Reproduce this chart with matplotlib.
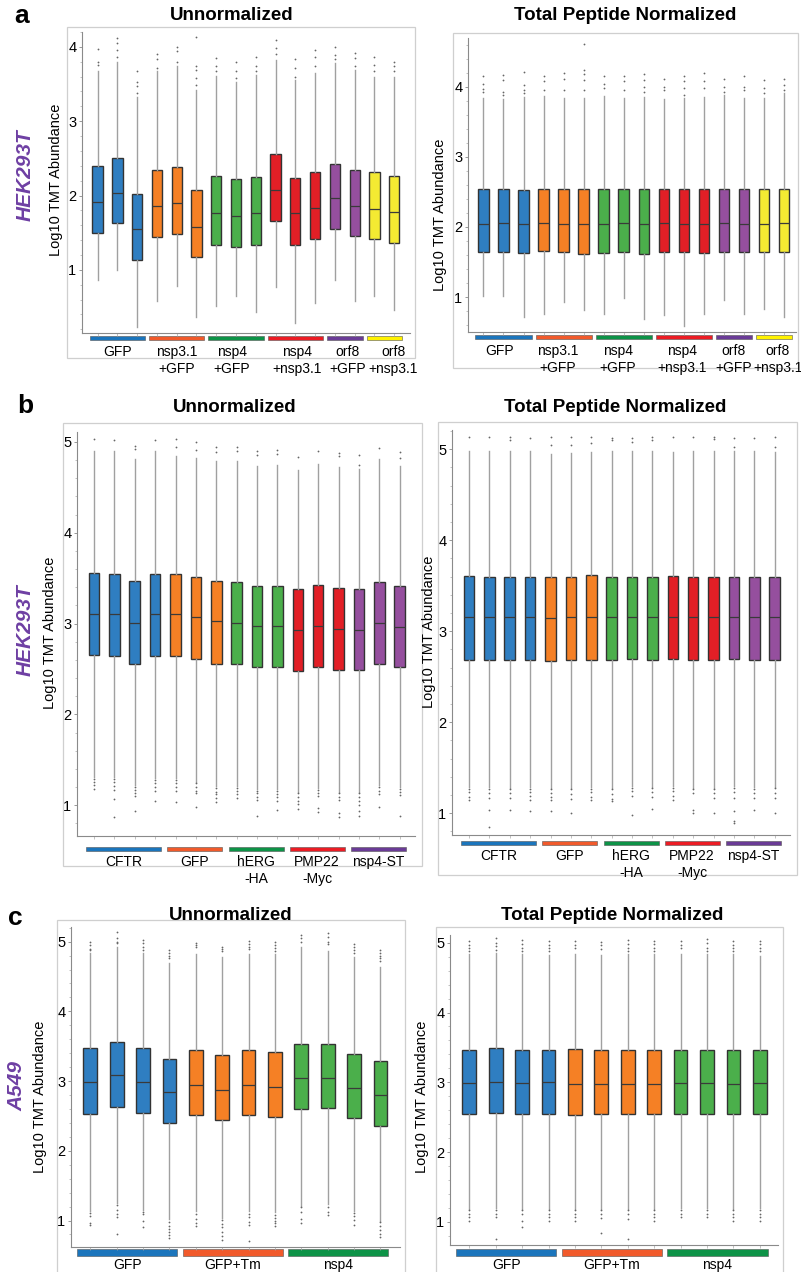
import matplotlib
matplotlib.use("Agg")
import matplotlib.pyplot as plt
import matplotlib.transforms as mtransforms
from matplotlib.patches import Rectangle
from matplotlib.ticker import MultipleLocator

plt.rcParams['font.family'] = ['Liberation Sans', 'DejaVu Sans']

# ---------------- data ----------------
# panel a, HEK293T, 16 channels
a_groups = ['GFP', 'nsp3.1\n+GFP', 'nsp4\n+GFP', 'nsp4\n+nsp3.1', 'orf8\n+GFP', 'orf8\n+nsp3.1']
a_sizes = [3, 3, 3, 3, 2, 2]

a_un_q1 = [1.50, 1.63, 1.13, 1.44, 1.48, 1.17, 1.34, 1.31, 1.34, 1.66, 1.34, 1.42, 1.55, 1.45, 1.42, 1.36]
a_un_med = [1.91, 2.04, 1.55, 1.86, 1.90, 1.58, 1.77, 1.72, 1.77, 2.07, 1.76, 1.83, 1.96, 1.86, 1.82, 1.78]
a_un_q3 = [2.40, 2.51, 2.02, 2.34, 2.38, 2.08, 2.26, 2.22, 2.25, 2.56, 2.24, 2.32, 2.43, 2.34, 2.31, 2.26]
a_un_lo = [0.86, 1.00, 0.23, 0.58, 0.78, 0.36, 0.51, 0.65, 0.43, 0.77, 0.29, 0.56, 0.86, 0.58, 0.65, 0.46]
a_un_hi = [3.67, 3.80, 3.33, 3.67, 3.74, 3.42, 3.61, 3.53, 3.62, 3.82, 3.56, 3.65, 3.78, 3.69, 3.59, 3.60]
a_un_out = [[3.97, 3.80, 3.76], [4.12, 4.05, 3.96, 3.87], [3.67, 3.53, 3.47, 3.38],
            [3.91, 3.83, 3.71], [4.00, 3.94, 3.80], [4.13, 3.74, 3.69, 3.58, 3.49],
            [3.85, 3.74, 3.67], [3.79, 3.68, 3.58], [3.87, 3.74, 3.68],
            [4.09, 3.98, 3.91], [3.83, 3.71, 3.60], [3.96, 3.87, 3.74],
            [4.00, 3.89, 3.83], [3.92, 3.85, 3.74], [3.86, 3.76, 3.67], [3.80, 3.74, 3.67]]

a_tp_q1 = [1.64, 1.65, 1.63, 1.66, 1.64, 1.61, 1.63, 1.64, 1.62, 1.65, 1.64, 1.63, 1.65, 1.64, 1.64, 1.64]
a_tp_med = [2.05, 2.06, 2.04, 2.06, 2.05, 2.04, 2.04, 2.06, 2.04, 2.06, 2.05, 2.04, 2.06, 2.05, 2.04, 2.06]
a_tp_q3 = [2.55, 2.55, 2.53, 2.55, 2.55, 2.54, 2.55, 2.55, 2.54, 2.55, 2.54, 2.54, 2.55, 2.55, 2.54, 2.55]
a_tp_lo = [1.01, 1.02, 0.72, 0.76, 0.93, 0.81, 0.76, 0.98, 0.69, 0.75, 0.58, 0.76, 0.96, 0.76, 0.83, 0.72]
a_tp_hi = [3.84, 3.83, 3.86, 3.87, 3.85, 3.85, 3.87, 3.84, 3.86, 3.83, 3.84, 3.86, 3.88, 3.85, 3.84, 3.92]
a_tp_out = [[4.16, 4.05, 3.97, 3.93], [4.17, 4.10, 3.93, 3.89], [4.21, 4.03, 3.96, 3.91],
            [4.15, 4.08, 3.96], [4.20, 4.12, 3.96], [4.62, 4.24, 4.19, 4.10, 3.96],
            [4.16, 4.05, 3.98], [4.15, 4.08, 3.96], [4.19, 4.10, 4.00, 3.93],
            [4.11, 4.00, 3.96], [4.15, 4.08, 3.98, 3.89], [4.20, 4.08, 3.98],
            [4.12, 4.00, 3.93], [4.15, 4.00, 3.96], [4.10, 3.98, 3.91], [4.12, 4.03, 3.96]]

# label centres (in channel units) for the panel a group names
a_un_labx = [2.0, 5.0, 7.8, 11.1, 13.65, 15.95]
a_tp_labx = [1.8, 4.7, 7.7, 10.9, 13.5, 15.7]

# panel b, HEK293T, 16 channels
b_groups = ['CFTR', 'GFP', 'hERG\n-HA', 'PMP22\n-Myc', 'nsp4-ST']
b_sizes = [4, 3, 3, 3, 3]

b_un_q1 = [2.65, 2.64, 2.55, 2.64, 2.64, 2.61, 2.56, 2.55, 2.52, 2.52, 2.48, 2.52, 2.49, 2.49, 2.55, 2.52]
b_un_med = [3.11, 3.10, 3.01, 3.10, 3.10, 3.07, 3.03, 3.01, 2.97, 2.97, 2.93, 2.97, 2.94, 2.93, 3.01, 2.96]
b_un_q3 = [3.56, 3.55, 3.47, 3.55, 3.55, 3.51, 3.47, 3.46, 3.41, 3.41, 3.38, 3.43, 3.39, 3.38, 3.46, 3.41]
b_un_lo = [1.31, 1.31, 1.22, 1.30, 1.30, 1.26, 1.21, 1.21, 1.18, 1.18, 1.15, 1.19, 1.15, 1.15, 1.22, 1.20]
b_un_hi = [4.90, 4.90, 4.81, 4.90, 4.85, 4.82, 4.79, 4.79, 4.74, 4.75, 4.69, 4.76, 4.72, 4.70, 4.81, 4.73]
b_un_top = [[5.03], [5.02], [4.96, 4.92], [5.02], [5.03, 4.94], [5.00, 4.91], [4.95, 4.89], [4.95, 4.90],
            [4.90, 4.86], [4.91, 4.87], [4.84], [4.90], [4.88, 4.85], [4.86, 4.75], [4.93], [4.89, 4.82]]
b_un_bot = [[1.29, 1.26, 1.22, 1.18], [1.29, 1.25, 1.21, 1.17, 1.07, 0.87], [1.20, 1.17, 1.13, 1.10, 0.94],
            [1.28, 1.24, 1.20, 1.16, 1.05], [1.28, 1.24, 1.20, 1.16, 1.04], [1.24, 1.20, 1.16, 1.13, 0.98],
            [1.19, 1.15, 1.12, 1.08, 1.04], [1.19, 1.16, 1.12, 1.08], [1.16, 1.13, 1.09, 1.06, 0.88],
            [1.16, 1.12, 1.09, 1.05, 0.95], [1.13, 1.09, 1.05, 1.01, 0.96], [1.17, 1.13, 1.10, 0.97, 0.92],
            [1.13, 1.09, 1.06, 0.91, 0.87], [1.13, 1.09, 1.05, 1.00, 0.93, 0.88], [1.20, 1.16, 1.12, 0.98],
            [1.18, 1.14, 1.11, 0.88]]

b_tp_q1 = [2.68, 2.68, 2.68, 2.68, 2.67, 2.68, 2.68, 2.68, 2.69, 2.68, 2.69, 2.68, 2.68, 2.69, 2.68, 2.68]
b_tp_med = [3.15, 3.15, 3.15, 3.15, 3.14, 3.15, 3.15, 3.15, 3.15, 3.15, 3.15, 3.15, 3.15, 3.15, 3.15, 3.15]
b_tp_q3 = [3.61, 3.60, 3.60, 3.60, 3.60, 3.60, 3.62, 3.60, 3.60, 3.60, 3.61, 3.60, 3.60, 3.60, 3.60, 3.60]
b_tp_lo = [1.29, 1.29, 1.28, 1.29, 1.28, 1.28, 1.29, 1.28, 1.30, 1.29, 1.30, 1.28, 1.28, 1.30, 1.29, 1.29]
b_tp_hi = [4.98, 4.98, 4.98, 4.98, 4.95, 4.96, 4.97, 4.98, 4.98, 4.98, 4.97, 4.98, 4.98, 4.98, 4.98, 4.97]
b_tp_top = [[5.13], [5.13], [5.13, 5.10], [5.12], [5.13, 5.04], [5.13, 5.04], [5.13, 5.07], [5.12, 5.10],
            [5.12, 5.08], [5.13, 5.10], [5.13], [5.13], [5.13, 5.11], [5.12, 5.02], [5.12], [5.13, 5.02]]
b_tp_bot = [[1.27, 1.23, 1.18, 1.14], [1.27, 1.22, 1.17, 1.04, 0.85], [1.26, 1.22, 1.17, 1.04],
            [1.27, 1.23, 1.19, 1.15, 1.02], [1.27, 1.22, 1.18, 1.14, 1.02], [1.26, 1.21, 1.16, 1.00],
            [1.27, 1.23, 1.18, 1.14], [1.26, 1.21, 1.16, 1.13], [1.28, 1.24, 1.19, 0.98],
            [1.28, 1.23, 1.18, 1.05], [1.28, 1.24, 1.19, 1.14], [1.27, 1.22, 1.04, 1.00],
            [1.27, 1.22, 1.17, 1.00], [1.28, 1.23, 1.17, 1.02, 0.91, 0.89], [1.27, 1.22, 1.17, 1.03],
            [1.28, 1.22, 1.17, 1.00]]

# panel c, A549, 12 channels
c_groups = ['GFP', 'GFP+Tm', 'nsp4']
c_sizes = [4, 4, 4]

c_un_q1 = [2.53, 2.63, 2.54, 2.40, 2.51, 2.44, 2.51, 2.48, 2.60, 2.61, 2.47, 2.36]
c_un_med = [2.98, 3.08, 2.98, 2.84, 2.94, 2.87, 2.94, 2.91, 3.04, 3.04, 2.90, 2.80]
c_un_q3 = [3.47, 3.56, 3.47, 3.32, 3.45, 3.38, 3.45, 3.42, 3.53, 3.53, 3.39, 3.29]
c_un_lo = [1.13, 1.25, 1.15, 1.02, 1.13, 1.04, 1.13, 1.12, 1.21, 1.23, 1.14, 1.00]
c_un_hi = [4.83, 4.93, 4.83, 4.69, 4.82, 4.78, 4.82, 4.82, 4.93, 4.86, 4.78, 4.64]
c_un_top = [[5.00, 4.95, 4.90, 4.88], [5.14, 5.05, 5.00, 4.98], [5.03, 4.98, 4.93, 4.88],
            [4.88, 4.84, 4.80, 4.76], [4.98, 4.95, 4.92], [4.92, 4.89, 4.86],
            [5.01, 4.97, 4.93, 4.89], [4.99, 4.95, 4.91, 4.87], [5.09, 5.05, 5.00],
            [5.12, 5.06, 5.00, 4.96], [4.97, 4.92, 4.88, 4.84], [4.88, 4.84, 4.80, 4.76, 4.72]]
c_un_bot = [[1.11, 1.07, 0.97, 0.94], [1.22, 1.15, 1.10, 1.05, 0.81], [1.12, 1.09, 0.99, 0.91],
            [0.98, 0.92, 0.88, 0.84, 0.79, 0.75], [1.10, 1.02, 0.96, 0.92], [1.01, 0.95, 0.90, 0.84, 0.78, 0.72],
            [1.10, 1.05, 0.98, 0.93, 0.70], [1.08, 1.04, 1.00, 0.96, 0.92], [1.19, 1.12, 1.02, 0.97],
            [1.20, 1.12, 1.08], [1.11, 1.06, 1.01, 0.94], [0.98, 0.92, 0.86, 0.80, 0.76]]

c_tp_q1 = [2.55, 2.56, 2.55, 2.55, 2.53, 2.55, 2.55, 2.55, 2.55, 2.55, 2.54, 2.55]
c_tp_med = [2.99, 3.01, 2.99, 3.00, 2.97, 2.97, 2.97, 2.97, 2.99, 2.99, 2.98, 2.99]
c_tp_q3 = [3.47, 3.49, 3.47, 3.47, 3.48, 3.47, 3.47, 3.47, 3.47, 3.47, 3.47, 3.47]
c_tp_lo = [1.19, 1.20, 1.19, 1.18, 1.19, 1.18, 1.19, 1.19, 1.20, 1.20, 1.19, 1.20]
c_tp_hi = [4.84, 4.85, 4.84, 4.83, 4.84, 4.83, 4.84, 4.84, 4.84, 4.84, 4.84, 4.81]
c_tp_top = [[5.02, 4.97, 4.93, 4.88], [5.06, 5.00, 4.95, 4.90], [5.04, 4.98, 4.93, 4.88],
            [5.02, 4.97, 4.93, 4.88], [5.02, 4.97, 4.92], [5.01, 4.96, 4.91],
            [5.04, 4.98, 4.93, 4.88], [5.03, 4.98, 4.93, 4.88], [5.02, 4.97, 4.92],
            [5.05, 4.99, 4.93, 4.88], [5.03, 4.97, 4.92, 4.88], [5.03, 4.98, 4.93, 4.88]]
c_tp_bot = [[1.17, 1.12, 1.07, 1.02], [1.17, 1.12, 1.07, 0.76], [1.17, 1.12, 1.02, 0.93],
            [1.17, 1.12, 1.07, 1.02], [1.17, 1.12, 1.07, 1.02], [1.17, 1.12, 1.05, 0.84],
            [1.17, 1.12, 1.04, 0.76], [1.17, 1.12, 1.07, 1.02], [1.17, 1.12, 1.07],
            [1.17, 1.12, 1.07], [1.17, 1.12, 1.07, 1.02], [1.17, 1.12, 1.07, 1.02]]

# colours
box_cols = ['#2F7EC1', '#F58025', '#4BAF4B', '#E21F26', '#954F9E', '#F4EA32']
bar_cols = ['#1B75BC', '#F15A2B', '#0D9347', '#EC1C24', '#6A3B96', '#FFF200']
box_cols_b = ['#2F7EC1', '#F58025', '#4BAF4B', '#E21F26', '#954F9E']
bar_cols_b = ['#1B75BC', '#F15A2B', '#0D9347', '#EC1C24', '#6A3B96']
row_col = '#6E3FA3'

# ---------------- figure ----------------
W, H = 801, 1272
fig = plt.figure(figsize=(W / 100, H / 100), dpi=100)


def fx(x):
    return x / W


def fy(y):
    return 1 - y / H


def frame(x0, x1, y0, y1):
    fig.add_artist(Rectangle((fx(x0), fy(y1)), (x1 - x0) / W, (y1 - y0) / H,
                             transform=fig.transFigure, fill=False,
                             ec='#cfcfcf', lw=0.9, zorder=0))


def panel(box, ylim, xlim, q1, med, q3, lo, hi, top, bot, sizes, groups,
          bcols, gcols, bar_px, lab_px, title, title_xy, ylab_xy,
          bar_pad=(0.4, 0.4), labx=None):
    x0, x1, y0, y1 = box
    ax = fig.add_axes([fx(x0), fy(y1), (x1 - x0) / W, (y1 - y0) / H])
    ax.set_facecolor('none')
    n = len(q1)
    pos = list(range(1, n + 1))
    cols = []
    for c, s in zip(bcols, sizes):
        cols += [c] * s
    stats = []
    for i in range(n):
        fl = list(top[i]) + list(bot[i]) if bot is not None else list(top[i])
        stats.append(dict(q1=q1[i], med=med[i], q3=q3[i], whislo=lo[i], whishi=hi[i], fliers=fl))
    res = ax.bxp(stats, positions=pos, widths=0.52, patch_artist=True, showcaps=False,
                 boxprops=dict(edgecolor='#333333', linewidth=1.0),
                 medianprops=dict(color='#3a3a3a', linewidth=0.9),
                 whiskerprops=dict(color='#a0a0a0', linewidth=1.0),
                 flierprops=dict(marker='o', markersize=1.3, markerfacecolor='#666666',
                                 markeredgecolor='none'))
    for b, c in zip(res['boxes'], cols):
        b.set_facecolor(c)
    ax.set_ylim(*ylim)
    ax.set_xlim(*xlim)
    for s in ['top', 'right']:
        ax.spines[s].set_visible(False)
    for s in ['left', 'bottom']:
        ax.spines[s].set_color('#8a8a8a')
        ax.spines[s].set_linewidth(0.8)
    ax.yaxis.set_major_locator(MultipleLocator(1))
    ax.yaxis.set_minor_locator(MultipleLocator(0.2))
    ax.tick_params(axis='y', which='major', length=2.5, width=0.6, color='#888888',
                   labelsize=10.5, pad=1.5)
    ax.tick_params(axis='y', which='minor', length=1.5, width=0.5, color='#aaaaaa')
    ax.set_xticks(pos)
    ax.set_xticklabels([])
    ax.tick_params(axis='x', length=2, width=0.5, color='#aaaaaa')

    # group colour bars + labels under the axis
    trans = mtransforms.blended_transform_factory(ax.transData, ax.transAxes)
    hpx = y1 - y0
    start = 1
    for k, (g, s, c) in enumerate(zip(groups, sizes, gcols)):
        a0 = start - bar_pad[0]
        a1 = start + s - 1 + bar_pad[1]
        yb = -(bar_px[1] - y1) / hpx
        ax.add_patch(Rectangle((a0, yb), a1 - a0, (bar_px[1] - bar_px[0]) / hpx,
                               transform=trans, facecolor=c, edgecolor='#555555',
                               lw=0.4, clip_on=False))
        xc = labx[k] if labx is not None else (a0 + a1) / 2
        ax.text(xc, -(lab_px - y1) / hpx, g, transform=trans, ha='center',
                va='top', fontsize=10, linespacing=1.25, multialignment='center')
        start += s

    fig.text(fx(title_xy[0]), fy(title_xy[1]), title, ha='center', va='center',
             fontsize=13.5, fontweight='bold')
    fig.text(fx(ylab_xy[0]), fy(ylab_xy[1]), 'Log10 TMT Abundance', rotation=90,
             ha='center', va='center', fontsize=10.5)
    return ax


# frames
frame(67, 415, 27, 358)
frame(453, 798, 33, 368)
frame(63, 422, 423, 866)
frame(438, 797, 422, 875)
frame(57, 405, 920, 1280)
frame(436, 783, 927, 1280)

# panel a
panel((82, 410, 32, 333), (0.15, 4.20), (0.21, 16.8),
      a_un_q1, a_un_med, a_un_q3, a_un_lo, a_un_hi, a_un_out, None,
      a_sizes, a_groups, box_cols, bar_cols, (336, 340), 345,
      'Unnormalized', (232, 16), (56, 180), labx=a_un_labx)
panel((468, 796, 38, 332), (0.50, 4.70), (0.23, 16.6),
      a_tp_q1, a_tp_med, a_tp_q3, a_tp_lo, a_tp_hi, a_tp_out, None,
      a_sizes, a_groups, box_cols, bar_cols, (335, 339), 344,
      'Total Peptide Normalized', (625, 15), (440, 215), labx=a_tp_labx)

# panel b
panel((77, 415, 432, 836), (0.66, 5.11), (0.165, 16.75),
      b_un_q1, b_un_med, b_un_q3, b_un_lo, b_un_hi, b_un_top, b_un_bot,
      b_sizes, b_groups, box_cols_b, bar_cols_b, (847, 851), 855,
      'Unnormalized', (235, 408), (50, 633), bar_pad=(0.4, 0.3))
panel((452, 790, 430, 835), (0.76, 5.21), (0.165, 16.75),
      b_tp_q1, b_tp_med, b_tp_q3, b_tp_lo, b_tp_hi, b_tp_top, b_tp_bot,
      b_sizes, b_groups, box_cols_b, bar_cols_b, (841, 845), 849,
      'Total Peptide Normalized', (615, 408), (429, 632), bar_pad=(0.4, 0.3))

# panel c
panel((71, 400, 927, 1247), (0.62, 5.21), (0.27, 12.74),
      c_un_q1, c_un_med, c_un_q3, c_un_lo, c_un_hi, c_un_top, c_un_bot,
      c_sizes, c_groups, box_cols[:3], bar_cols[:3], (1249, 1256), 1258,
      'Unnormalized', (231, 915), (40, 1097), bar_pad=(0.5, 0.3))
panel((450, 778, 935, 1245), (0.67, 5.11), (0.27, 12.69),
      c_tp_q1, c_tp_med, c_tp_q3, c_tp_lo, c_tp_hi, c_tp_top, c_tp_bot,
      c_sizes, c_groups, box_cols[:3], bar_cols[:3], (1249, 1256), 1258,
      'Total Peptide Normalized', (612, 915), (422, 1097), bar_pad=(0.5, 0.3))

# panel letters and cell line labels
for t, x, y in [('a', 22, 16), ('b', 25, 406), ('c', 15, 918)]:
    fig.text(fx(x), fy(y), t, ha='center', va='center', fontsize=19, fontweight='bold')
for t, x, y in [('HEK293T', 25, 175), ('HEK293T', 25, 630), ('A549', 17, 1086)]:
    fig.text(fx(x), fy(y), t, rotation=90, ha='center', va='center', fontsize=15,
             fontweight='bold', fontstyle='italic', color=row_col)

fig.savefig('out.png', dpi=100)
